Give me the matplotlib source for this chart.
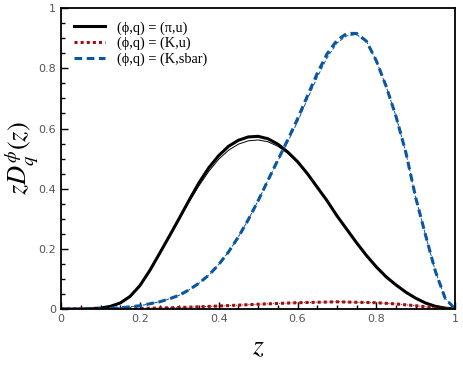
"""Fragmentation functions zD_q^phi(z) for three (hadron, quark) pairs."""
import matplotlib
matplotlib.use("Agg")
import matplotlib.pyplot as plt
from matplotlib.ticker import MultipleLocator, FuncFormatter

plt.rcParams["mathtext.fontset"] = "stix"

# pi from u quark (thick and thin curves)
z_pi = [0.0, 0.05, 0.1, 0.125, 0.15, 0.175, 0.2, 0.225, 0.25, 0.275, 0.3, 0.325,
        0.35, 0.375, 0.4, 0.425, 0.45, 0.475, 0.5, 0.525, 0.55, 0.575, 0.6, 0.625,
        0.65, 0.675, 0.7, 0.725, 0.75, 0.775, 0.8, 0.825, 0.85, 0.875, 0.9, 0.925,
        0.95, 0.975, 1.0]
d_pi = [0.0, 0.0, 0.003, 0.009, 0.02, 0.042, 0.078, 0.128, 0.185, 0.243, 0.302, 0.362,
        0.42, 0.47, 0.51, 0.541, 0.561, 0.572, 0.574, 0.566, 0.548, 0.522, 0.49, 0.45,
        0.405, 0.36, 0.31, 0.265, 0.22, 0.178, 0.14, 0.107, 0.08, 0.056, 0.036, 0.02,
        0.009, 0.003, 0.0]
d_pi_thin = [0.0, 0.0, 0.003, 0.009, 0.02, 0.042, 0.078, 0.128, 0.185, 0.243, 0.3, 0.357,
             0.41, 0.458, 0.498, 0.528, 0.548, 0.559, 0.562, 0.556, 0.541, 0.518, 0.488, 0.45,
             0.405, 0.36, 0.31, 0.265, 0.22, 0.178, 0.14, 0.107, 0.08, 0.056, 0.036, 0.02,
             0.009, 0.003, 0.0]

# K from u quark
z_ku = [0.0, 0.1, 0.2, 0.3, 0.4, 0.5, 0.6, 0.7, 0.8, 0.85, 0.9, 0.95, 1.0]
d_ku = [0.0, 0.0005, 0.002, 0.005, 0.01, 0.016, 0.021, 0.024, 0.021, 0.017, 0.011, 0.004, 0.0]

# K from sbar quark
z_ks = [0.0, 0.05, 0.1, 0.15, 0.2, 0.25, 0.275, 0.3, 0.325, 0.35, 0.375, 0.4, 0.425,
        0.45, 0.475, 0.5, 0.525, 0.55, 0.575, 0.6, 0.625, 0.65, 0.675, 0.7, 0.725,
        0.75, 0.775, 0.8, 0.825, 0.85, 0.875, 0.9, 0.925, 0.95, 0.975, 1.0]
d_ks = [0.0, 0.0, 0.001, 0.004, 0.011, 0.024, 0.034, 0.046, 0.064, 0.086, 0.113, 0.148, 0.19,
        0.24, 0.297, 0.36, 0.428, 0.495, 0.562, 0.632, 0.708, 0.783, 0.848, 0.893, 0.916,
        0.916, 0.89, 0.825, 0.74, 0.64, 0.52, 0.37, 0.245, 0.125, 0.035, 0.0]
d_ks_thin = [0.0, 0.0, 0.001, 0.004, 0.011, 0.024, 0.034, 0.046, 0.064, 0.086, 0.113, 0.148, 0.19,
             0.24, 0.297, 0.36, 0.428, 0.492, 0.555, 0.622, 0.698, 0.77, 0.835, 0.884, 0.908,
             0.912, 0.89, 0.825, 0.74, 0.64, 0.52, 0.37, 0.245, 0.125, 0.035, 0.0]

labels = ["(\u03d5,q) = (\u03c0,u)", "(\u03d5,q) = (K,u)", "(\u03d5,q) = (K,sbar)"]
RED = "#9b1010"
BLUE = "#0a56a0"

fig = plt.figure(figsize=(4.63, 3.71), dpi=100)
ax = fig.add_axes([0.132, 0.167, 0.851, 0.811])

ax.plot(z_pi, d_pi, color="black", lw=2.2, label=labels[0])
ax.plot(z_ku, d_ku, color=RED, lw=2.2, ls=(0, (1, 1)), label=labels[1])
ax.plot(z_ks, d_ks, color=BLUE, lw=2.2, ls=(0, (2.5, 1.5)), label=labels[2])
ax.plot(z_pi, d_pi_thin, color="black", lw=0.7)
ax.plot(z_ku, d_ku, color=RED, lw=0.7, ls=(0, (1, 1)))
ax.plot(z_ks, d_ks_thin, color=BLUE, lw=0.7, ls=(0, (4, 2)))

ax.set_xlim(0, 1)
ax.set_ylim(0, 1)
ax.xaxis.set_major_locator(MultipleLocator(0.2))
ax.yaxis.set_major_locator(MultipleLocator(0.2))
ax.xaxis.set_minor_locator(MultipleLocator(0.05))
ax.yaxis.set_minor_locator(MultipleLocator(0.05))
fmt = FuncFormatter(lambda v, _: f"{v:g}")
ax.xaxis.set_major_formatter(fmt)
ax.yaxis.set_major_formatter(fmt)
ax.tick_params(which="both", direction="in", labelsize=8, labelcolor="#555555", width=1)
ax.tick_params(which="major", length=5)
ax.tick_params(which="minor", length=3)
for s in ax.spines.values():
    s.set_linewidth(1.3)

ax.set_xlabel("$z$", fontsize=20, labelpad=6)
ax.set_ylabel(r"$zD_q^{\phi}(z)$", fontsize=19)
ax.yaxis.set_label_coords(-0.054, 0.5)

ax.legend(loc="upper left", frameon=False, handlelength=2.2, borderaxespad=0.3,
          borderpad=0.6, labelspacing=0.15,
          prop={"family": ["Liberation Serif", "DejaVu Serif"], "size": 10.3})

fig.savefig("out.png", dpi=100)
